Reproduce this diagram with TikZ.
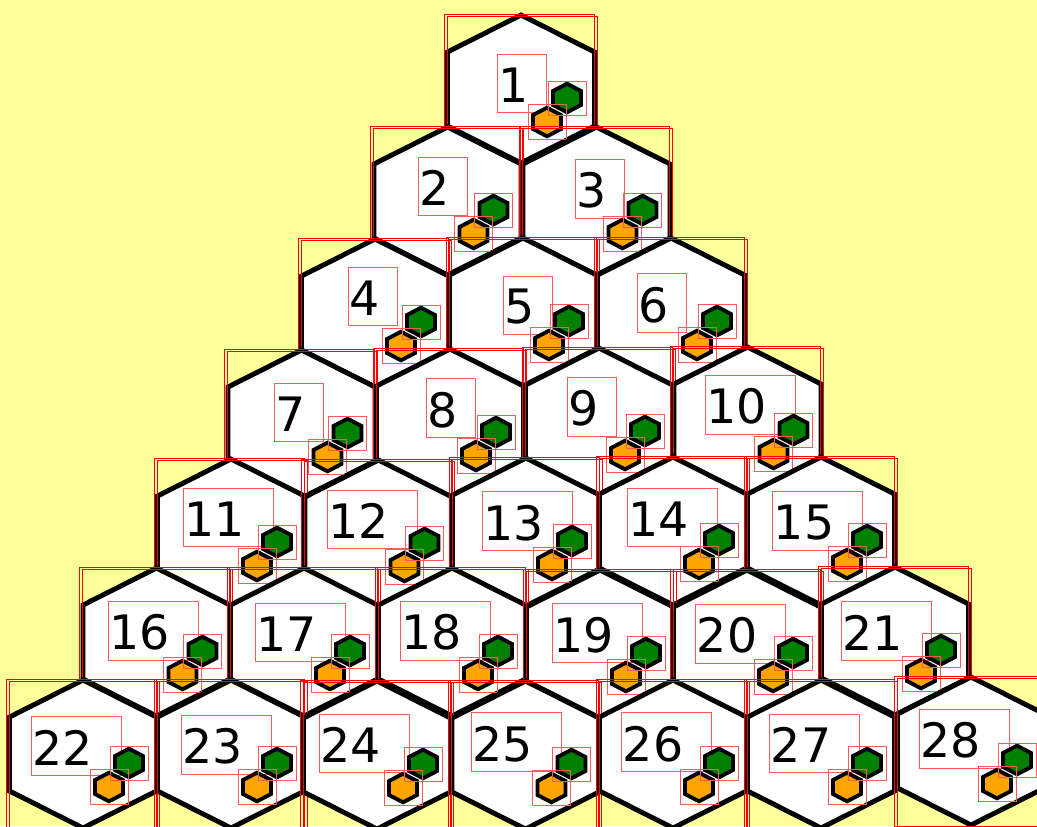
\documentclass[tikz,border=0pt]{standalone}
\usepackage{fontspec}
\setmainfont{DejaVu Sans}
\usetikzlibrary{calc}

\definecolor{bgyellow}{HTML}{FFFF99}
\definecolor{cellgreen}{HTML}{008000}
\definecolor{cellorange}{HTML}{FFA500}

\tikzset{
  cellhex/.style={draw=black, line width=2.8pt, fill=white},
  tinyhex/.style={draw=black, line width=2.2pt},
  redbox/.style={draw=red, line width=0.5pt},
  numbox/.style={draw=red!65, line width=0.5pt},
  numlabel/.style={inner sep=0pt, font=\fontsize{27}{32}\selectfont},
}

% number / centre x / centre y / label shift x / label shift y
\def\cells{1/521/89/-7.5/-4, 2/447.5/201/-12.5/-13, 3/596.5/201/-5/-10.5,
  4/375/313/-10/-14.5, 5/523/312/-3/-5, 6/671/312/-17/-7,
  7/301.5/424/-11/-9.5, 8/450/423/-7.5/-13, 9/599/422/-15.5/-13.5, 10/747.5/421/-11/-14.5,
  11/231/533/-16/-13.5, 12/378.5/534/-19.5/-13, 13/526/532/-12/-9, 14/673/531/-14.5/-11.5,
  15/821/531/-17/-8.5,
  16/156.5/642/-16.5/-9.5, 17/304/642/-17.5/-7.5, 18/452/642/-20.5/-9.5, 19/600/644/-16.5/-9,
  20/747/644/-20/-8.5, 21/895/641/-22.5/-8.5,
  22/83/754/-20.5/-6.5, 23/231/754/-18.5/-7.5, 24/377/755/-26/-10, 25/525.5/755/-22.5/-11,
  26/673/754/-20/-10, 27/821/754/-20/-9, 28/971/751/-20.5/-10.5}

\begin{document}
\begin{tikzpicture}[x=0.02cm, y=-0.02cm]
 \useasboundingbox (0,0) rectangle (1037,826);
 \clip (0,0) rectangle (1037,826);
 \fill[bgyellow] (0,0) rectangle (1037,826);

 \foreach \n/\cx/\cy/\dx/\dy in \cells {
  \pgfmathsetmacro\padr{\n>9 ? 28 : 17}
  \begin{scope}[shift={(\cx,\cy)}]
   \draw[cellhex] (0,-74) -- (73.5,-37) -- (73.5,37) -- (0,74) -- (-73.5,37) -- (-73.5,-37) -- cycle;
   \draw[redbox] (-77,-75) rectangle (73,75);
   \draw[redbox] (-74,-73) rectangle (76,77);
   \node[numlabel] (num\n) at (\dx,\dy) {\n};
  \end{scope}
  \draw[numbox] ($(num\n.south west)+(-1,9.5)$) rectangle ($(num\n.north east)+(\padr,-13)$);
  \begin{scope}[shift={(\cx,\cy)}]
   \draw[tinyhex, fill=cellorange, shift={(26,33)}] (0,-14.3) -- (14,-7) -- (14,7) -- (0,14.3) -- (-14,7) -- (-14,-7) -- cycle;
   \draw[tinyhex, fill=cellgreen, shift={(46,9)}] (0,-14.3) -- (14,-7) -- (14,7) -- (0,14.3) -- (-14,7) -- (-14,-7) -- cycle;
   \draw[numbox] (7,15.5) rectangle (45,50.5);
   \draw[numbox] (27,-8) rectangle (65,26);
  \end{scope}
 }
\end{tikzpicture}
\end{document}
